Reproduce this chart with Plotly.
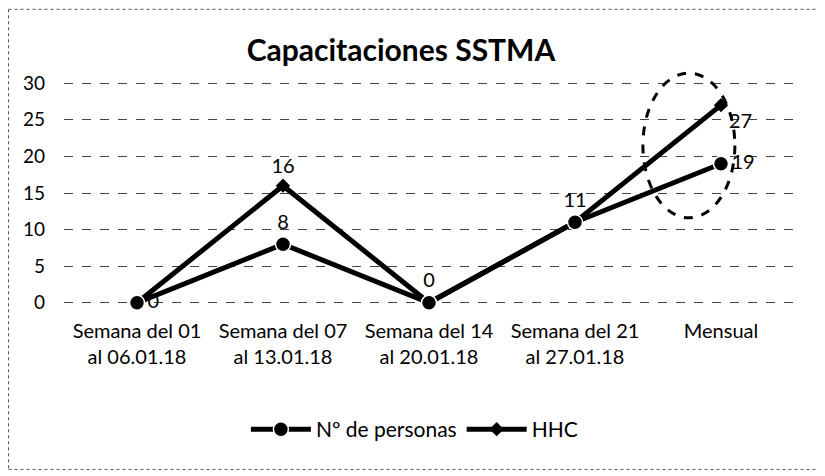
import plotly.graph_objects as go

categories = ["Semana del 01<br>al 06.01.18", "Semana del 07<br>al 13.01.18",
              "Semana del 14<br>al 20.01.18", "Semana del 21<br>al 27.01.18", "Mensual"]
personas = [0, 8, 0, 11, 19]
hhc = [0, 16, 0, 11, 27]

# which labels are shown (overlapping zeros / 11 are written once)
personas_text = [str(v) for v in personas]
personas_pos = ["middle right", "top center", "top center", "top center", "middle right"]
hhc_text = ["", str(hhc[1]), "", "", str(hhc[4])]
hhc_pos = ["middle right", "top center", "top center", "top center", "bottom right"]

font = "Lato"

fig = go.Figure()
fig.add_trace(go.Scatter(
    x=categories, y=hhc, name="HHC", mode="lines+markers+text",
    line=dict(color="black", width=5),
    marker=dict(symbol="diamond", size=11, color="black"),
    text=hhc_text, textposition=hhc_pos,
    textfont=dict(size=20, color="black", family=font),
    cliponaxis=False,
))
fig.add_trace(go.Scatter(
    x=categories, y=personas, name="Nº de personas", mode="lines+markers+text",
    line=dict(color="black", width=5),
    marker=dict(symbol="circle", size=15, color="black",
                line=dict(color="white", width=1.5)),
    text=personas_text, textposition=personas_pos,
    textfont=dict(size=20, color="black", family=font),
    cliponaxis=False,
))

# dashed ellipse highlighting the monthly total
fig.add_shape(type="circle", xref="paper", yref="paper", x0=0.793, x1=0.919, y0=0.389, y1=1.035,
              line=dict(color="black", width=3, dash="dash"))

# dashed frame of the scanned chart
for x0, y0, x1, y1 in [(-0.076, 1.32, 1.05, 1.32), (-0.076, 1.32, -0.076, -0.734),
                       (-0.076, -0.734, 1.05, -0.734)]:
    fig.add_shape(type="line", xref="paper", yref="paper", x0=x0, y0=y0, x1=x1, y1=y1,
                  line=dict(color="#555555", width=1, dash="dot"))

fig.update_layout(
    width=817, height=468,
    margin=dict(l=56, r=31, t=72.8, b=170.8, autoexpand=False),
    paper_bgcolor="white", plot_bgcolor="white",
    font=dict(family=font, color="black", size=18),
    title=dict(text="<b>Capacitaciones SSTMA</b>", x=0.481, xanchor="center",
               y=0.91, yanchor="middle", font=dict(size=30, family=font)),
    showlegend=True,
    legend=dict(orientation="h", x=0.48, xanchor="center", y=-0.556, yanchor="middle",
                traceorder="reversed", font=dict(size=21), itemwidth=60),
)
fig.update_xaxes(range=[-0.5, 4.5], showgrid=False, showline=False, ticks="",
                 tickfont=dict(size=20), ticklabelstandoff=12)
fig.update_yaxes(range=[-0.3, 30.3], dtick=5, showgrid=True, gridcolor="#444444", griddash="dash",
                 gridwidth=1, zeroline=False, showline=False, ticks="",
                 tickfont=dict(size=19), ticklabelstandoff=18)

fig.write_html("out.html")
